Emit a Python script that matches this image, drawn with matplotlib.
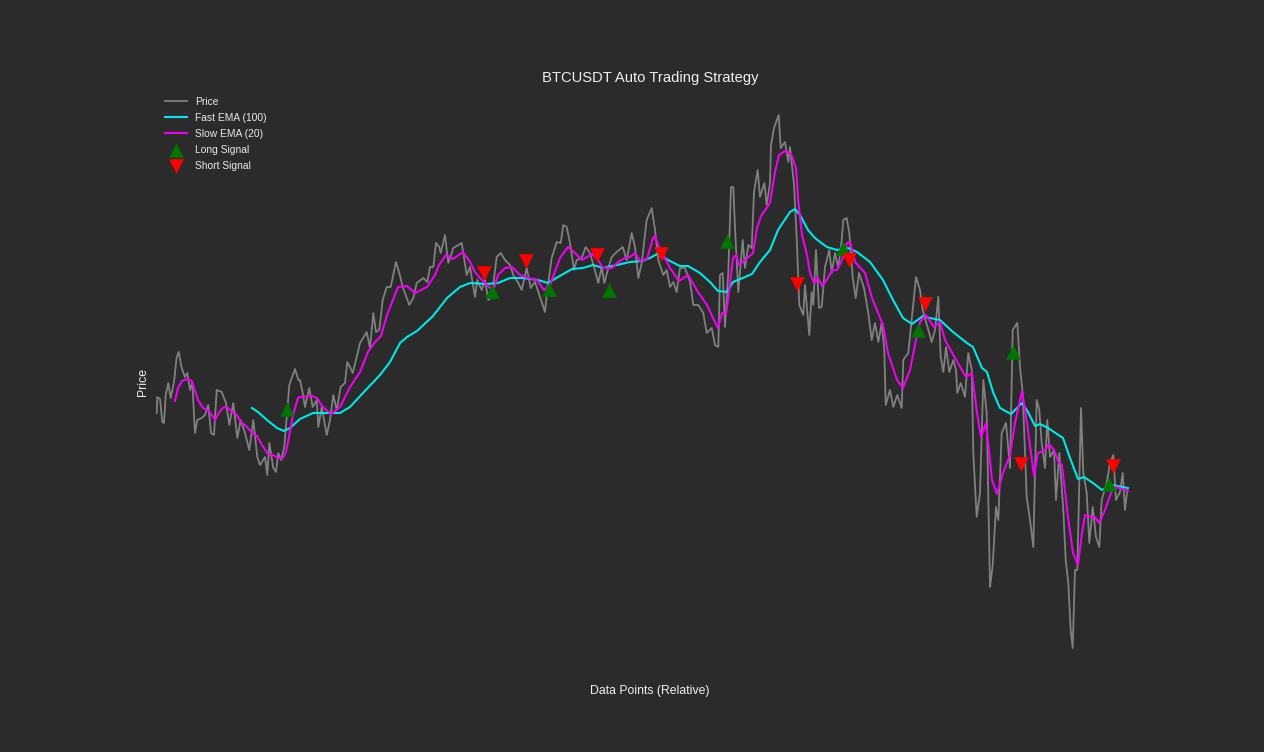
#! /usr/bin/env python3
# BTCUSDT strategy chart (no price scale shown)
from matplotlib import pyplot as plt

price_x = [6.7, 7.3, 10, 12.3, 14, 15.7, 18.3, 20.7, 24, 26.7, 28.7, 31.7, 35, 37.3, 40, 42.3, 45, 47.3, 51.7, 55,
           58.3, 61, 64, 66.7, 71.7, 76, 79.3, 83.3, 87.3, 90.7, 95, 99.3, 103.3, 107.3, 110, 115, 117.3, 119.3,
           123.3, 126, 128.3, 131, 134.3, 139.3, 141.7, 145, 148.3,
           150, 152.7, 155, 159.3, 162.7, 166.7, 168.3, 171.7, 176.7, 180, 183.3, 186.7, 190.7, 195, 197.3, 200,
           202.7, 206.7, 210, 216.7, 220, 223.3, 226, 229.3, 232.7, 236.7, 240.7, 246, 249.3, 252.7, 259.3, 263.3,
           266.7, 273.3, 277.3, 280, 283.3, 286, 289.3, 290.7, 295, 298.3, 303.3, 311.7, 316.7, 320,
           321.7, 325, 327.3, 331.7, 335, 338.3, 341.7, 346.7, 350.7, 355, 360, 363.3, 368.3, 371.7, 376.7, 380.7,
           385, 390, 395, 397.3, 401.7, 406.7, 410.7, 413.3, 416.7, 420, 424, 426.7, 431.7, 435.7, 440, 444, 448.3,
           451.7, 454.3, 458.3, 461.7, 466.7, 472.7, 476.7, 481.7, 485, 488.3, 491.7, 496.7, 501.7, 505, 508.3,
           513.3, 516.7, 520,
           523.3, 526.7, 530, 535, 540, 543.3, 548.3, 553.3, 556.7, 561.7, 565, 568.3, 570, 572.7, 575, 578.3, 581,
           583.3, 585, 588.3, 592.7, 595, 598.3, 601.7, 604, 607.7, 610, 614.3, 616.7, 620, 621, 624, 628.7, 630.7,
           635, 638.3, 640, 644, 646.7, 649.3, 653.3, 655, 659.3, 661.7, 663.3, 666, 669,
           671.7, 675, 679.3, 681.7, 685, 688.3, 691.7, 693.3, 696.7, 699.3, 702.7, 705.7, 709, 714, 718.3, 721.7,
           725, 728.3, 731.7, 734.3, 735.7, 740, 743.3, 747.3, 751.7, 753.3, 758.3, 763.3, 766, 770, 772.7, 778.3,
           781.7, 785, 788.3, 790.7, 793.3, 796, 799.3, 803.3, 806, 807.3, 810.7, 815, 818.3, 821.7, 823.3, 826.7,
           830, 833.3, 836.7, 840, 842.7, 846, 848.3, 851.7, 856, 860, 862.7, 867.3, 870, 872.7, 876.7, 880, 883.3,
           886.7, 889.3, 891.7, 895, 897.3, 900, 904, 906, 909.3, 913.3, 915.7, 918.3, 920.7, 922.7, 925, 927.3,
           931, 933.3, 936.7, 939.3, 942.7, 946, 949.3, 951.7, 956.7, 960, 963.3, 966, 970, 972.7, 975, 977.3]
price = [267, 283, 281, 258, 257, 285, 297, 282, 298, 323, 328, 312, 303, 307, 290, 297, 247, 260, 262, 265,
         275, 247, 245, 290, 288, 277, 255, 277, 242, 260, 247, 230, 260, 223, 215, 223, 205, 237,
         212, 208, 227, 220, 233, 295, 302, 311, 300,
         300, 287, 273, 292, 273, 280, 253, 273, 245, 260, 285, 270, 293, 297, 318, 313,
         307, 323, 337, 348, 332, 367, 348, 350, 380, 393, 393, 418, 407, 393, 375, 382,
         397, 402, 398, 413, 413, 437, 433, 427, 445, 417, 432, 437, 405, 413,
         403, 383, 400, 390, 400, 380, 383, 423, 427, 420, 415, 405, 397, 390, 412, 392,
         398, 383, 368, 390, 422, 438, 437, 455, 453, 437, 410, 420, 422, 433, 427, 413, 397,
         413, 397, 412, 423, 428, 433, 420, 447, 433, 402, 417, 460, 472, 450, 420,
         405, 410, 393,
         398, 388, 412, 412, 398, 375, 375, 367, 347, 352, 335, 333, 405, 407, 353, 408, 493,
         493, 452, 388, 440, 412, 435, 432, 488, 510, 483, 497, 475, 497, 535, 552, 565, 532,
         538, 518, 533, 495, 442, 375, 365, 395, 345, 388, 375, 430, 372,
         373, 413, 430, 407, 427, 412, 440, 460, 462, 447, 403, 382, 407, 392, 367, 340,
         357, 338, 357, 330, 275, 290, 273, 285, 272, 320, 327, 377, 403, 390, 370, 350,
         338, 350, 383, 323, 308, 333, 308, 320, 310, 287, 297, 283, 327, 310, 227, 163,
         187, 300, 267, 93, 115, 173, 160, 247, 257, 212, 350, 357, 313, 287, 183, 160, 133,
         280, 270, 237, 212, 260, 223, 230, 180, 227, 170, 120, 97, 50, 32, 110, 110,
         272, 207, 187, 137, 173, 143, 133, 180, 197, 217, 225, 180, 188, 207, 170, 190]

fast_x = [102, 108, 117, 127, 134, 140, 150, 163, 177, 190, 200, 213, 230, 240, 250, 257, 267, 283, 297, 310, 320,
          337, 348, 360, 373, 388, 398, 408, 422, 433, 443, 453, 467, 480, 492, 500, 507, 513, 520, 530, 538, 550,
          560, 568, 577, 583, 588, 602, 610, 620, 628, 640, 645, 650, 658, 665, 670, 677, 687, 698, 707, 720, 733,
          743, 753, 762, 773, 780, 790, 803, 817, 823, 832, 837, 843, 850, 861, 872, 878, 885, 890, 898, 907, 913,
          920, 928, 934, 943, 952, 962, 978]
fast_ema = [272, 268, 260, 252, 249, 252, 261, 267, 267, 267, 273, 287, 305, 318, 337, 343, 349, 364, 382, 393, 397,
            396, 397, 402, 402, 400, 397, 403, 411, 412, 415, 412, 415, 418, 419, 422, 426, 423, 419, 414, 414, 407,
            398, 389, 388, 398, 400, 406, 418, 430, 450, 468, 471, 465, 450, 442, 438, 433, 430, 432, 428, 418, 400,
            380, 362, 356, 364, 362, 360, 348, 337, 333, 312, 308, 288, 272, 266, 277, 268, 254, 256, 252, 246, 242,
            222, 201, 203, 197, 190, 195, 192]

slow_x = [25, 28, 32, 37, 42, 44, 48, 53, 59, 65, 70, 74, 78, 82, 86, 91, 97, 102, 107, 112, 118, 123, 128, 133, 136,
          139, 143, 148, 150, 162, 167, 172, 181, 190, 200, 210, 218, 225, 231, 237, 248, 257, 265, 277, 285, 289, 296,
          303, 313, 320, 325, 330, 340, 344, 348, 355, 362, 370, 378, 387, 394, 400, 410, 418, 424, 432, 442, 448, 453,
          462, 468, 475, 480, 485, 490, 497, 503, 505, 509, 520, 529, 538, 548, 557, 563, 568, 572, 576, 579, 583, 586,
          589, 593, 603, 607, 611, 620, 625, 629, 635, 641, 646, 648, 652, 657, 660, 664, 668, 672, 678, 682, 687, 692,
          697, 700, 705, 715, 722, 733, 738, 747, 753, 760, 766, 770, 776, 784, 790, 795, 805, 816, 822, 827, 831, 836,
          842, 847, 853, 860, 865, 872, 877, 884, 888, 895, 899, 904, 908, 912, 918, 923, 928, 932, 935, 942, 945, 949,
          955, 962, 966, 978]
slow_ema = [279, 292, 299, 301, 299, 292, 280, 272, 269, 260, 269, 273, 272, 268, 266, 258, 253, 247, 244, 235, 226, 225, 222, 222, 228,
            243, 265, 282, 283, 284, 282, 274, 266, 273, 293, 308, 328, 338, 344, 365, 393, 394, 387, 393, 405, 415, 425,
            421, 428, 418, 408, 402, 392, 392, 405, 412, 413, 405, 402, 400, 390, 395, 422, 433, 428, 420, 426, 420, 412,
            412, 418, 422, 423, 427, 419, 421, 442, 444, 433, 412, 399, 405, 388, 375, 362, 352, 367, 366, 388, 422, 425,
            415, 418, 427, 452, 464, 477, 508, 525, 529, 526, 512, 482, 445, 425, 407, 397, 402, 394, 402, 410, 410, 420,
            437, 438, 418, 407, 382, 355, 327, 300, 292, 310, 340, 358, 365, 353, 358, 340, 322, 303, 307, 267, 243, 257,
            200, 186, 207, 225, 257, 289, 257, 204, 227, 230, 236, 230, 219, 215, 163, 127, 115, 147, 165, 163, 163, 157,
            170, 190, 193, 189]

long_x = [137, 342, 399, 459, 577, 693, 768, 863, 959]
long_y = [271, 389, 391, 390, 439, 432, 350, 328, 196]
short_x = [334, 376, 447, 511, 647, 699, 775, 871, 963]
short_y = [407, 419, 425, 426, 396, 420, 376, 216, 214]

BG = '#2b2b2b'

plt.rcParams['font.family'] = ['Liberation Sans', 'DejaVu Sans']

fig = plt.figure(figsize=(12.64, 7.52), dpi=100, facecolor=BG)
# axes box: 150..1150 px across, 90..680 px down
ax = fig.add_axes([150 / 1264, (752 - 680) / 752, 1000 / 1264, 590 / 752], facecolor=BG)

ax.plot(price_x, price, color='#808080', lw=1.3, label='Price')
ax.plot(fast_x, fast_ema, color='#00e8e8', lw=1.5, label='Fast EMA (100)')
ax.plot(slow_x, slow_ema, color='#f000f0', lw=1.5, label='Slow EMA (20)')
ax.scatter(long_x, long_y, marker='^', s=110, color='#007500', linewidths=0, label='Long Signal', zorder=5)
ax.scatter(short_x, short_y, marker='v', s=110, color='#ff0000', linewidths=0, label='Short Signal', zorder=6)

ax.set_xlim(0, 1000)
ax.set_ylim(0, 590)
ax.set_xticks([])
ax.set_yticks([])
for spine in ax.spines.values():
    spine.set_visible(False)

ax.set_title('BTCUSDT Auto Trading Strategy', color='#f0f0f0', fontsize=10.6, y=1.0206, va='center', pad=0)
ax.set_xlabel('Data Points (Relative)', color='#f0f0f0', fontsize=8.85, va='center')
ax.set_ylabel('Price', color='#f0f0f0', fontsize=8.85, va='center')
ax.xaxis.set_label_coords(0.5, -0.019)
ax.yaxis.set_label_coords(-0.007, 0.505)

leg = ax.legend(loc='upper left', bbox_to_anchor=(0.015, 0.988), frameon=False, fontsize=7.4, labelcolor='#e8e8e8',
                borderaxespad=0, borderpad=0, labelspacing=0.57, handlelength=2.14, handletextpad=0.78)

fig.savefig('out.png', dpi=100, facecolor=BG)
